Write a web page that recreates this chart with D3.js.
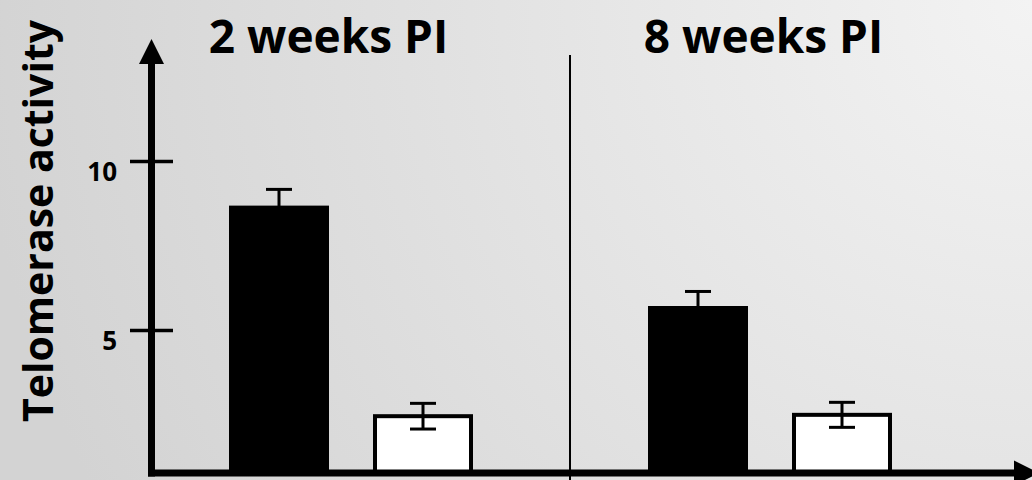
<!DOCTYPE html>
<html>
<head>
<meta charset="utf-8">
<script src="https://cdn.jsdelivr.net/npm/d3@7"></script>
<style>
  html, body { margin: 0; padding: 0; background: #e0e0e0; }
  svg { display: block; }
  text { font-family: "Open Sans", "DejaVu Sans", sans-serif; font-weight: bold; fill: #000; }
</style>
</head>
<body>
<svg id="chart" width="1032" height="480"></svg>
<script>
// ---- data ----
const groups = ["2 weeks PI", "8 weeks PI"];
const series = ["infected", "control"];
const meanInfected = [8.68, 5.71];
const errInfected = [0.48, 0.43];
const meanControl = [2.45, 2.49];
const errControl = [0.38, 0.37];
const tickValues = [5, 10];
const tickLabels = ["5", "10"];
const yLabel = "Telomerase activity";

// ---- layout ----
const W = 1032, H = 480;
const axisX = 151.5, axisY = 473;
const svg = d3.select("#chart");

const defs = svg.append("defs");
const grad = defs.append("radialGradient").attr("id", "bg")
  .attr("gradientUnits", "userSpaceOnUse")
  .attr("cx", 1032).attr("cy", 0).attr("r", 1060);
grad.append("stop").attr("offset", "0%").attr("stop-color", "#f3f3f3");
grad.append("stop").attr("offset", "100%").attr("stop-color", "#d3d3d3");
svg.append("rect").attr("width", W).attr("height", H).attr("fill", "url(#bg)");

const y = d3.scaleLinear().domain([0, 10]).range([499, 161]);
const x0 = d3.scaleBand().domain(groups).range([152, 990]).padding(0);
const x1 = d3.scaleBand().domain(series).range([77, 321]).paddingInner(44 / 144).paddingOuter(0);

const rows = groups.map((g, i) => ({
  group: g,
  values: [
    { key: "infected", mean: meanInfected[i], err: errInfected[i] },
    { key: "control", mean: meanControl[i], err: errControl[i] }
  ]
}));

// divider
svg.append("line")
  .attr("x1", x0(groups[1]) - 1).attr("x2", x0(groups[1]) - 1)
  .attr("y1", 55).attr("y2", H)
  .attr("stroke", "#000").attr("stroke-width", 2);

// bars
const g = svg.selectAll("g.grp").data(rows).join("g")
  .attr("class", "grp")
  .attr("transform", d => `translate(${x0(d.group)},0)`);

g.selectAll("rect.bar").data(d => d.values).join("rect")
  .attr("class", "bar")
  .attr("x", d => d.key === "control" ? x1(d.key) + 2 : x1(d.key))
  .attr("width", d => d.key === "control" ? x1.bandwidth() - 4 : x1.bandwidth())
  .attr("y", d => y(d.mean))
  .attr("height", d => axisY - y(d.mean))
  .attr("fill", d => d.key === "control" ? "#fff" : "#000")
  .attr("stroke", "#000")
  .attr("stroke-width", d => d.key === "control" ? 4 : 0);

// error bars
const eb = g.selectAll("g.err").data(d => d.values).join("g")
  .attr("class", "err")
  .attr("transform", d => `translate(${x1(d.key) + x1.bandwidth() / 2},0)`);
eb.append("line").attr("x1", 0).attr("x2", 0)
  .attr("y1", d => y(d.mean + d.err)).attr("y2", d => y(d.mean - d.err))
  .attr("stroke", "#000").attr("stroke-width", 3);
eb.append("line").attr("x1", -13).attr("x2", 13)
  .attr("y1", d => y(d.mean + d.err)).attr("y2", d => y(d.mean + d.err))
  .attr("stroke", "#000").attr("stroke-width", 3);
eb.append("line").attr("x1", -13).attr("x2", 13)
  .attr("y1", d => y(d.mean - d.err)).attr("y2", d => y(d.mean - d.err))
  .attr("stroke", "#000").attr("stroke-width", 3);

// axes lines
svg.append("line").attr("x1", axisX).attr("x2", axisX)
  .attr("y1", 60).attr("y2", axisY + 3.5)
  .attr("stroke", "#000").attr("stroke-width", 7);
svg.append("line").attr("x1", axisX - 3.5).attr("x2", 1016)
  .attr("y1", axisY).attr("y2", axisY)
  .attr("stroke", "#000").attr("stroke-width", 7);
// arrowheads
svg.append("path")
  .attr("d", `M${axisX},39 L${axisX + 12.5},64 L${axisX - 12.5},64 Z`)
  .attr("fill", "#000");
svg.append("path")
  .attr("d", `M1039,${axisY} L1014,${axisY - 12.5} L1014,${axisY + 12.5} Z`)
  .attr("fill", "#000");

// y ticks
const yAxis = d3.axisLeft(y).tickValues(tickValues)
  .tickFormat((d, i) => tickLabels[i]).tickSize(43).tickPadding(13);
const ya = svg.append("g").attr("transform", `translate(173,0)`).call(yAxis);
ya.select(".domain").remove();
ya.selectAll(".tick line").attr("stroke", "#000").attr("stroke-width", 3.5);
ya.selectAll(".tick text")
  .attr("dy", "0.32em").attr("y", 11)
  .style("font-size", "26px").style("font-family", "'Open Sans', sans-serif")
  .style("font-weight", "bold").attr("fill", "#000");

// y label
svg.append("text")
  .attr("transform", "translate(53,221) rotate(-90)")
  .attr("text-anchor", "middle")
  .style("font-size", "41px")
  .text(yLabel);

// group titles
const titleOffsets = [-33, -17];
svg.selectAll("text.title").data(groups).join("text")
  .attr("class", "title")
  .attr("x", (d, i) => x0(d) + x0.bandwidth() / 2 + titleOffsets[i])
  .attr("y", 53)
  .attr("text-anchor", "middle")
  .style("font-size", "46px")
  .text(d => d);
</script>
</body>
</html>
